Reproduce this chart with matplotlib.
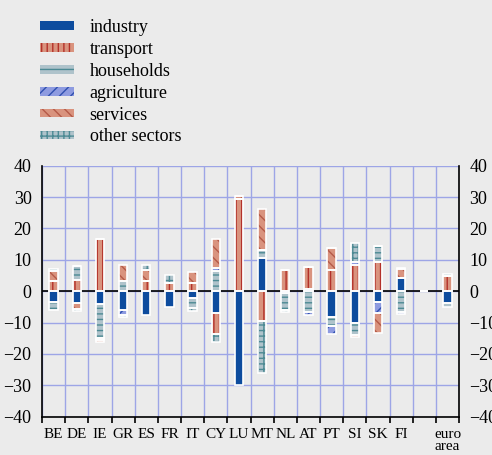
import numpy as np
import matplotlib.pyplot as plt
from matplotlib.patches import Patch

plt.rcParams['font.family'] = ['Liberation Serif', 'DejaVu Serif']
plt.rcParams['hatch.linewidth'] = 1.0

paises = ['BE', 'DE', 'IE', 'GR', 'ES', 'FR', 'IT', 'CY', 'LU', 'MT', 'NL',
          'AT', 'PT', 'SI', 'SK', 'FI', '', 'euro\narea']

industry = [-3.3, -3.8, -4.0, -6.0, -7.6, -4.9, -2.2, -7.0, -29.8, 10.7, -0.6,
            0.8, -8.1, -10.2, -3.3, 4.3, 0, -3.8]
transport = [3.3, 3.7, 16.6, 0, 3.2, 2.5, 2.6, -6.8, 29.5, -9.4, 6.7,
             6.8, 6.7, 8.4, 9.3, 0, 0, 4.8]
households = [-2.7, 4.2, -10.8, 3.4, 0, 0, -3.3, 6.4, 0, 2.5, -5.5,
              -6.6, -2.9, -3.8, 5.0, -6.5, 0, -1.3]
agriculture = [0, 0, -0.6, -1.6, 0, 0, 0, 1.1, 0, 0, 0,
               -0.9, -2.5, 1.0, -3.5, -0.9, 0, 0]
services = [3.0, -1.8, -0.8, 5.1, 3.4, 0, 3.6, 9.1, 0.7, 13.1, 0,
            0, 7.0, -0.5, -6.6, 2.8, 0, 0]
other = [0.7, -0.6, 0, -0.7, 1.7, 2.8, -0.8, -2.5, 0, -16.7, -0.6,
         0, 0, 5.9, 0, 0.4, 0, 0.7]

sectores = [
    ('industry', industry, '#0D4C9E', '#0D4C9E', ''),
    ('transport', transport, '#D9937E', '#B3312A', '|||'),
    ('households', households, '#AFC3CB', '#4D8A94', '---'),
    ('agriculture', agriculture, '#8E9BE0', '#3050B0', '///'),
    ('services', services, '#D9937E', '#B55A48', '\\\\\\'),
    ('other sectors', other, '#AFC3CB', '#4D8A94', '+++'),
]

fondo = '#EBEBEB'
fig = plt.figure(figsize=(4.92, 4.55), dpi=100, facecolor=fondo)
ax = fig.add_axes([0.0854, 0.0842, 0.8476, 0.5516], facecolor=fondo)

x = np.arange(len(paises))
ancho = 0.36
base_pos = np.zeros(len(paises))
base_neg = np.zeros(len(paises))

for nombre, valores, color, color_rayas, rayas in sectores:
    v = np.array(valores, dtype=float)
    abajo = np.where(v >= 0, base_pos, base_neg)
    # relleno con rayado, y luego el borde blanco encima
    ax.bar(x, v, ancho, bottom=abajo, color=color, edgecolor=color_rayas,
           hatch=rayas, linewidth=0, zorder=3)
    ax.bar(x, v, ancho, bottom=abajo, fill=False, edgecolor='white',
           linewidth=1.2, zorder=4)
    base_pos += np.where(v >= 0, v, 0)
    base_neg += np.where(v < 0, v, 0)

ax.axhline(0, color='black', linewidth=1.2, zorder=2)

ax.set_xlim(-0.5, len(paises) - 0.5)
ax.set_ylim(-40, 40)
ax.set_yticks(np.arange(-40, 41, 10))
ax.set_xticks(np.arange(-0.5, len(paises), 1))
ax.set_xticklabels([])
ax.set_xticks(x, minor=True)
ax.set_xticklabels(paises, minor=True, fontsize=11, linespacing=0.9, va='top')
ax.tick_params(axis='x', which='minor', length=0, pad=8)
ax.tick_params(axis='x', which='major', length=4, width=1.2, direction='out')
ax.tick_params(axis='y', labelsize=13, left=False, right=False,
               labelright=True, pad=4)

ax.grid(True, which='major', color='#9DA5E6', linewidth=1.0, zorder=0)
ax.set_axisbelow(True)
ax.spines['top'].set_visible(False)
for lado in ['left', 'right', 'bottom']:
    ax.spines[lado].set_color('black')
    ax.spines[lado].set_linewidth(1.2)

manejadores = [Patch(facecolor=c, edgecolor=cr, hatch=r, linewidth=0, label=n)
               for n, _, c, cr, r in sectores]
fig.legend(handles=manejadores, loc='upper left',
           bbox_to_anchor=(40 / 492, 1 - 19 / 455), frameon=False,
           fontsize=13, handlelength=1.9, handleheight=0.37,
           handletextpad=0.85, labelspacing=0.27, borderpad=0,
           borderaxespad=0)

fig.savefig('out.png', dpi=100, facecolor=fondo)
